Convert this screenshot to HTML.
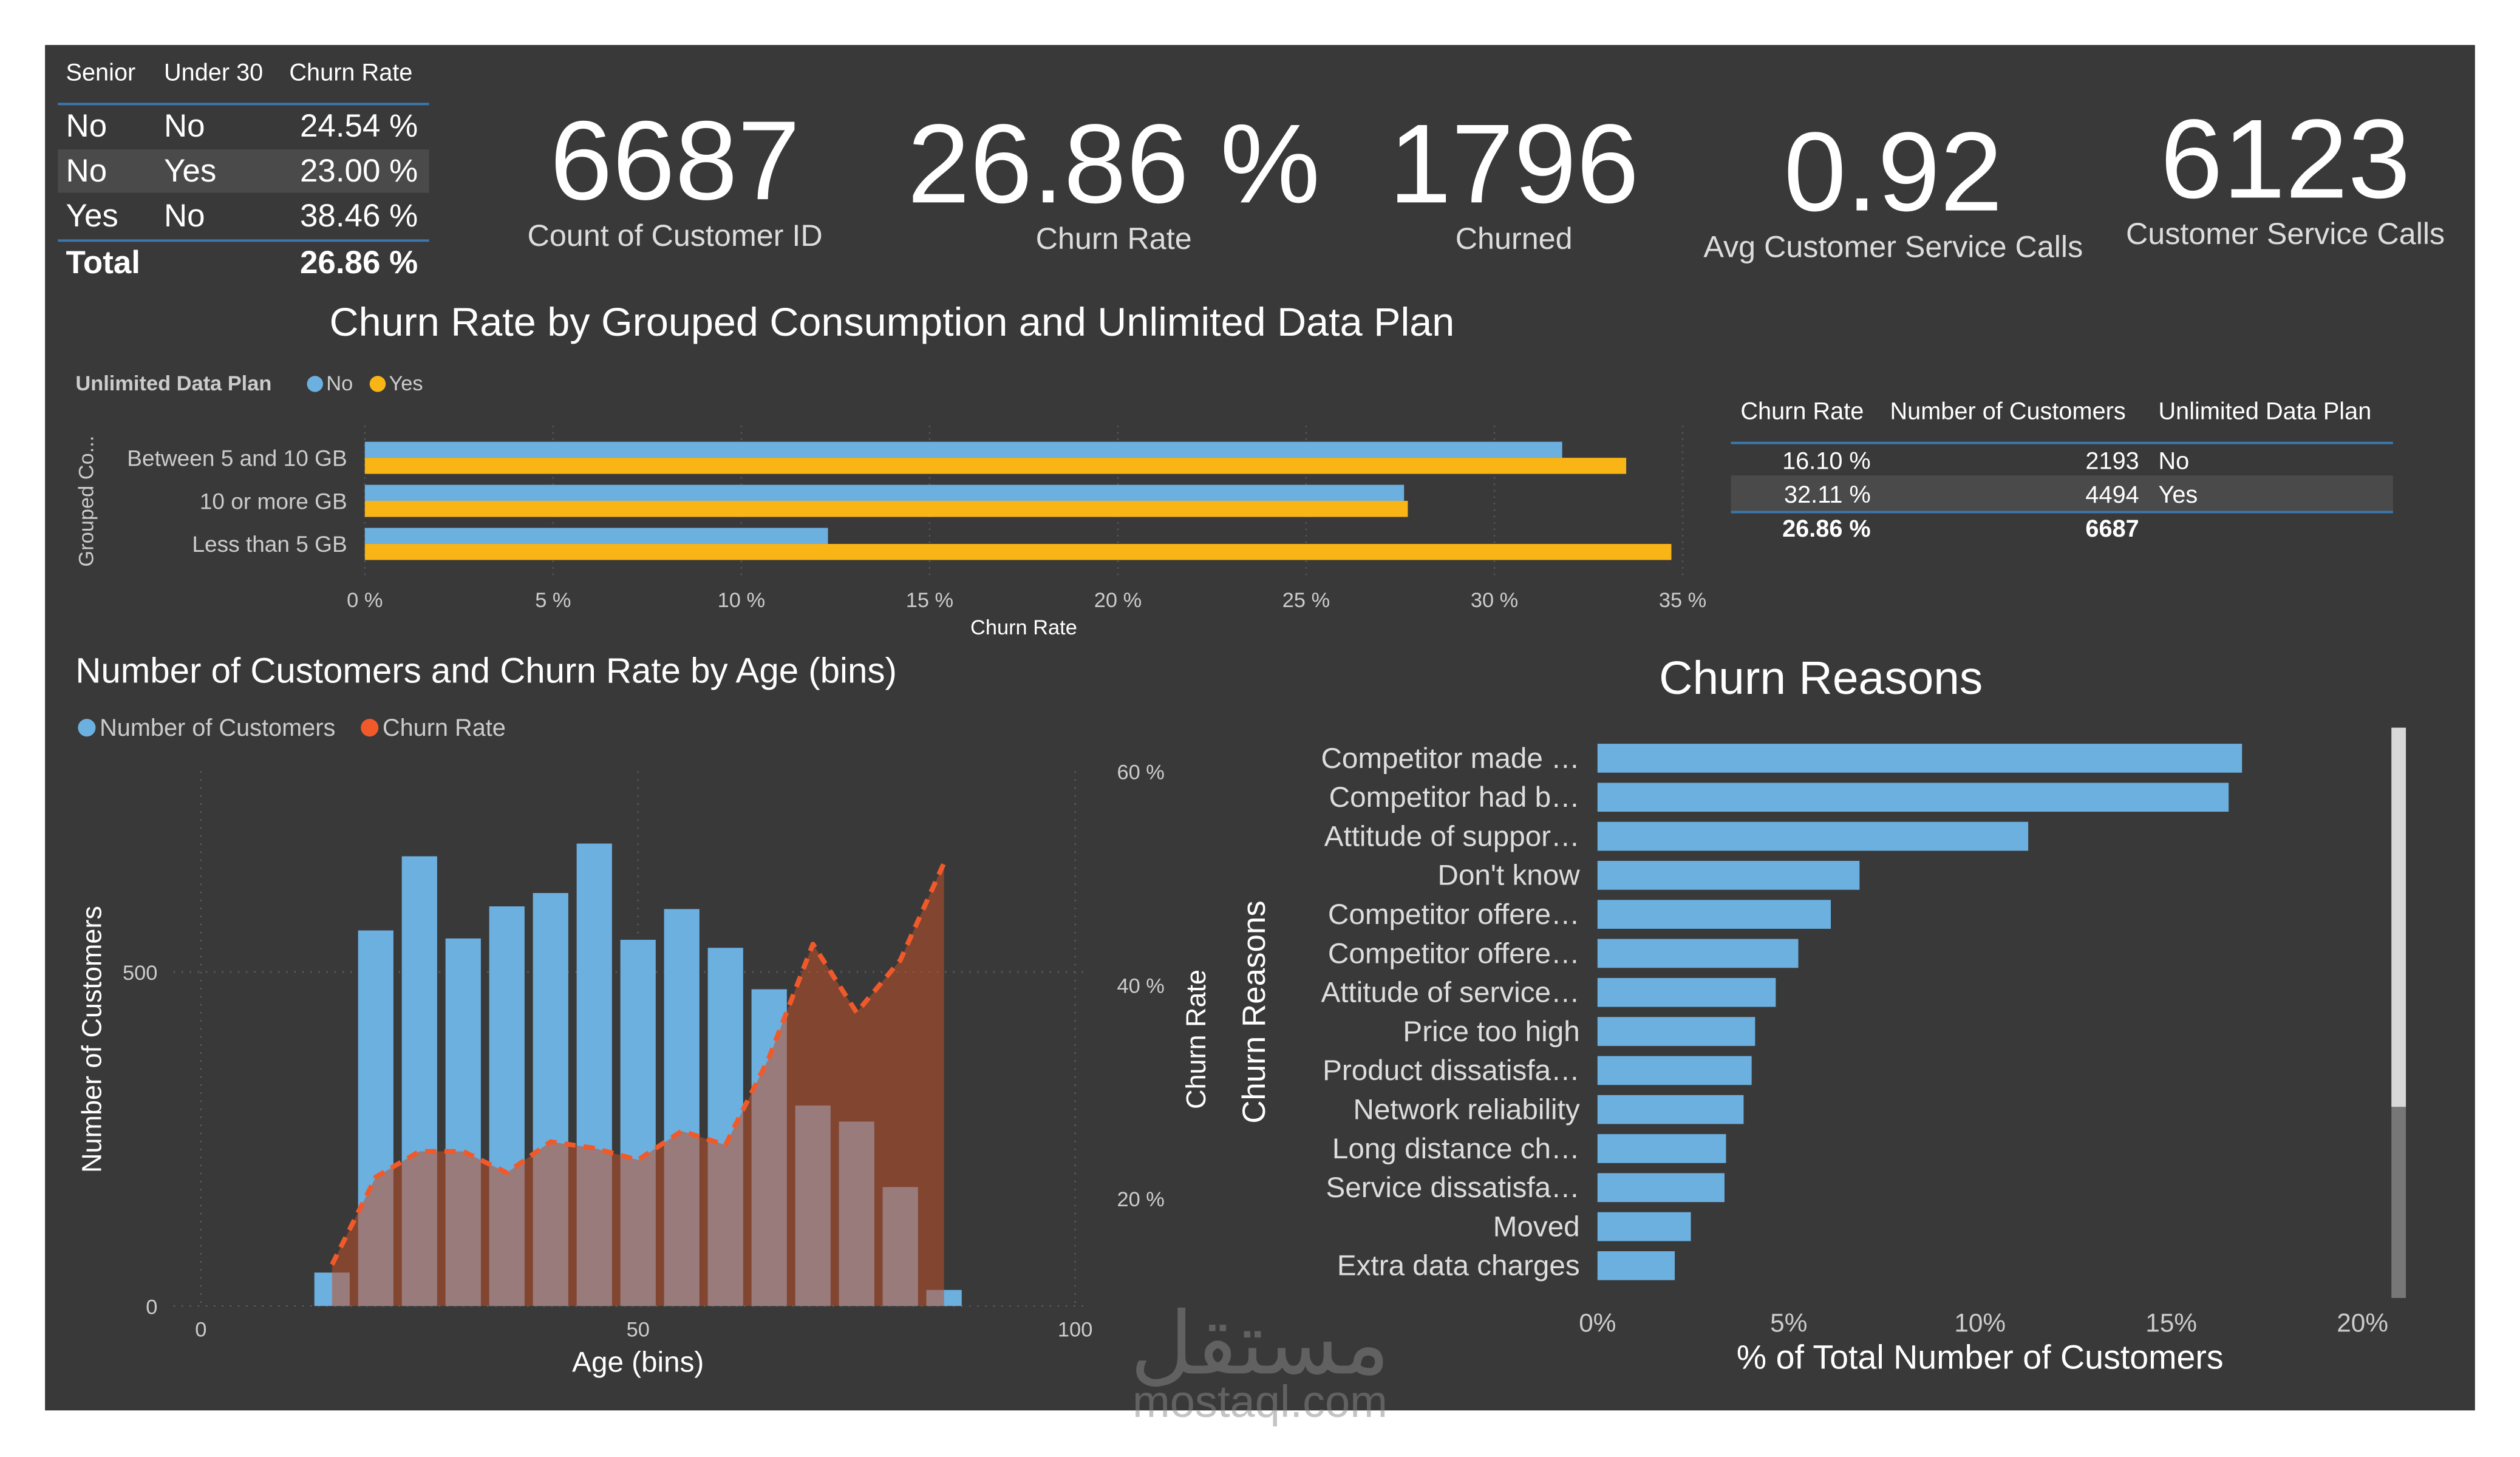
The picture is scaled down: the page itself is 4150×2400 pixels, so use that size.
<!DOCTYPE html>
<html><head><meta charset="utf-8"><style>
html,body{margin:0;padding:0;background:#fff;}
svg{display:block;font-family:"Liberation Sans","Noto Sans CJK SC",sans-serif;}
</style></head><body>
<svg id="root" width="4150" height="2400" viewBox="0 0 1568 907" preserveAspectRatio="none" xmlns="http://www.w3.org/2000/svg">
<rect x="0" y="0" width="1568" height="907" fill="#ffffff"/>
<rect x="28" y="28" width="1512" height="850" fill="#393939"/>

<!-- top-left table -->
<g fill="#fff">
<text x="41" y="50" font-size="15">Senior</text><text x="102" y="50" font-size="15">Under 30</text><text x="180" y="50" font-size="15">Churn Rate</text>
<rect x="36" y="64" width="231" height="1.5" fill="#3b78b0"/>
<rect x="36" y="93" width="231" height="27" fill="#4a4a4a"/>
<text x="41" y="85" font-size="20">No</text><text x="102" y="85" font-size="20">No</text><text x="260" y="85" font-size="20" text-anchor="end">24.54 %</text>
<text x="41" y="113" font-size="20">No</text><text x="102" y="113" font-size="20">Yes</text><text x="260" y="113" font-size="20" text-anchor="end">23.00 %</text>
<text x="41" y="141" font-size="20">Yes</text><text x="102" y="141" font-size="20">No</text><text x="260" y="141" font-size="20" text-anchor="end">38.46 %</text>
<rect x="36" y="149" width="231" height="1.5" fill="#3b78b0"/>
<text x="41" y="170" font-size="20" font-weight="bold">Total</text><text x="260" y="170" font-size="20" font-weight="bold" text-anchor="end">26.86 %</text>
</g>

<!-- KPIs -->
<g fill="#fff" text-anchor="middle">
<g><text x="420" y="124" font-size="70">6687</text><text x="420" y="153" font-size="19" fill="#ddd">Count of Customer ID</text></g>
<g><text x="693" y="126" font-size="70">26.86 %</text><text x="693" y="155" font-size="19" fill="#ddd">Churn Rate</text></g>
<g><text x="942" y="126" font-size="70">1796</text><text x="942" y="155" font-size="19" fill="#ddd">Churned</text></g>
<g><text x="1178" y="131" font-size="70">0.92</text><text x="1178" y="160" font-size="19" fill="#ddd">Avg Customer Service Calls</text></g>
<g><text x="1422" y="123" font-size="70">6123</text><text x="1422" y="152" font-size="19" fill="#ddd">Customer Service Calls</text></g>
</g>

<!-- chart 1 -->
<text x="205" y="209" font-size="25" fill="#fff" textLength="700" lengthAdjust="spacingAndGlyphs">Churn Rate by Grouped Consumption and Unlimited Data Plan</text>
<g font-size="13">
<text x="47" y="243" fill="#ccc" font-weight="bold">Unlimited Data Plan</text>
<circle cx="196" cy="239" r="5" fill="#6cb0e0"/><text x="203" y="243" fill="#ccc">No</text>
<circle cx="235" cy="239" r="5" fill="#f9b515"/><text x="242" y="243" fill="#ccc">Yes</text>
</g>
<text transform="translate(58,312) rotate(-90)" font-size="13" fill="#ccc" text-anchor="middle">Grouped Co...</text>
<text x="637" y="395" font-size="13" fill="#fff" text-anchor="middle">Churn Rate</text>
<g id="c1"></g>

<!-- right table -->
<g fill="#fff" font-size="15">
<text x="1083" y="261">Churn Rate</text><text x="1176" y="261">Number of Customers</text><text x="1343" y="261">Unlimited Data Plan</text>
<rect x="1077" y="275" width="412" height="1.5" fill="#3b78b0"/>
<rect x="1077" y="296" width="412" height="22" fill="#4a4a4a"/>
<text x="1164" y="292" text-anchor="end">16.10 %</text><text x="1331" y="292" text-anchor="end">2193</text><text x="1343" y="292">No</text>
<text x="1164" y="313" text-anchor="end">32.11 %</text><text x="1331" y="313" text-anchor="end">4494</text><text x="1343" y="313">Yes</text>
<rect x="1077" y="318" width="412" height="1.5" fill="#3b78b0"/>
<text x="1164" y="334" text-anchor="end" font-weight="bold">26.86 %</text><text x="1331" y="334" text-anchor="end" font-weight="bold">6687</text>
</g>

<!-- chart 2 -->
<text x="47" y="425" font-size="22" fill="#fff" textLength="511" lengthAdjust="spacingAndGlyphs">Number of Customers and Churn Rate by Age (bins)</text>
<g font-size="15">
<circle cx="54" cy="453" r="5.5" fill="#6cb0e0"/><text x="62" y="458" fill="#ccc">Number of Customers</text>
<circle cx="230" cy="453" r="5.5" fill="#f05a2a"/><text x="238" y="458" fill="#ccc">Churn Rate</text>
</g>
<text transform="translate(63,647) rotate(-90)" font-size="17" fill="#fff" text-anchor="middle">Number of Customers</text>
<text transform="translate(750,647) rotate(-90)" font-size="17" fill="#fff" text-anchor="middle">Churn Rate</text>
<text x="397" y="854" font-size="18" fill="#fff" text-anchor="middle">Age (bins)</text>
<g id="c2"></g>

<!-- chart 3 -->
<text x="1133" y="432" font-size="29" fill="#fff" text-anchor="middle">Churn Reasons</text>
<text transform="translate(787,630) rotate(-90)" font-size="20" fill="#fff" text-anchor="middle">Churn Reasons</text>
<text x="1232" y="852" font-size="21" fill="#fff" text-anchor="middle">% of Total Number of Customers</text>
<g id="c3"></g>
<rect x="1488" y="453" width="9" height="355" fill="#777"/>
<rect x="1488" y="453" width="9" height="236" fill="#d8d8d8"/>

<g fill="#8a8a8a" opacity="0.5" text-anchor="middle">
<text x="784" y="855" font-size="54" font-family="'DejaVu Sans',sans-serif">مستقل</text>
<text x="784" y="882" font-size="28">mostaql.com</text>
</g>
</svg>
<script>
const NS='http://www.w3.org/2000/svg';
function mk(p,tag,attrs,txt){const e=document.createElementNS(NS,tag);for(const k in attrs)e.setAttribute(k,attrs[k]);if(txt!==undefined)e.textContent=txt;p.appendChild(e);return e;}

// ---- chart 1 data ----
const c1Categories=['Between 5 and 10 GB','10 or more GB','Less than 5 GB'];
const c1No=[31.8,27.6,12.3];
const c1Yes=[33.5,27.7,34.7];
const c1Ticks=[0,5,10,15,20,25,30,35];
const c1x=v=>227+v*(1047-227)/35;
const c1row=i=>285+i*26.8;
const g1=document.getElementById('c1');
c1Ticks.forEach(t=>{
  const l=mk(g1,'line',{x1:c1x(t),x2:c1x(t),y1:265,y2:358,stroke:'#555','stroke-dasharray':'1 3'});
  
  
  const tx=mk(g1,'text',{x:c1x(t),y:378,'font-size':13,fill:'#ccc','text-anchor':'middle'},t+' %');
  
  
});
c1Categories.forEach((c,i)=>{
  const y=c1row(i);
  const lb=mk(g1,'text',{x:216,y:y+5,'font-size':14,fill:'#ccc','text-anchor':'end'},c);
  
  
  const b1=mk(g1,'rect',{x:c1x(0),y:y-10,width:c1x(c1No[i])-c1x(0),height:10,fill:'#6cb0e0'});
  
  
  const b2=mk(g1,'rect',{x:c1x(0),y:y,width:c1x(c1Yes[i])-c1x(0),height:10,fill:'#f9b515'});
  
  
});

// ---- chart 2 data ----
const c2Ages=[15,20,25,30,35,40,45,50,55,60,65,70,75,80,85];
const c2Customers=[50,562,673,550,598,618,692,548,594,536,474,300,276,178,24];
const c2Churn=[13.8,22,24.4,24.4,22.4,25.3,24.7,23.6,26.3,25,33.2,43.8,37.4,42.3,51.4];
const c2XTicks=[0,50,100];
const c2YTicks=[0,500];
const c2Y2Ticks=[20,40,60];
const c2x=a=>125+a*5.44;
const c2y=v=>813-v*0.416;
const c2y2=p=>879-p*6.65;
const g2=document.getElementById('c2');
c2XTicks.forEach(t=>{
  const l=mk(g2,'line',{x1:c2x(t),x2:c2x(t),y1:480,y2:813,stroke:'#5a5a5a','stroke-dasharray':'1 4'});
  
  
  const tx=mk(g2,'text',{x:c2x(t),y:832,'font-size':13,fill:'#ccc','text-anchor':'middle'},t);
  
  
});
c2YTicks.forEach(t=>{
  const l=mk(g2,'line',{x1:108,x2:675,y1:c2y(t),y2:c2y(t),stroke:'#5a5a5a','stroke-dasharray':'1 4'});
  
  
  const tx=mk(g2,'text',{x:98,y:c2y(t)+5,'font-size':13,fill:'#ccc','text-anchor':'end'},t);
  
  
});
c2Y2Ticks.forEach(t=>{
  const tx=mk(g2,'text',{x:695,y:c2y2(t)+5,'font-size':13,fill:'#ccc'},t+' %');
  
  
});
c2Ages.forEach((a,i)=>{
  const b=mk(g2,'rect',{x:c2x(a)-11,y:c2y(c2Customers[i]),width:22,height:c2y(0)-c2y(c2Customers[i]),fill:'#6cb0e0'});
  
  
});
let pts=c2Ages.map((a,i)=>c2x(a)+','+c2y2(c2Churn[i]));
const area=mk(g2,'polygon',{points:c2x(c2Ages[0])+','+c2y(0)+' '+pts.join(' ')+' '+c2x(c2Ages[c2Ages.length-1])+','+c2y(0),fill:'#c0502a','fill-opacity':0.55});


const line=mk(g2,'polyline',{points:pts.join(' '),fill:'none',stroke:'#f05a2a','stroke-width':3,'stroke-dasharray':'7 5','stroke-linejoin':'round'});



// ---- chart 3 data ----
const c3Reasons=['Competitor made …','Competitor had b…','Attitude of suppor…',"Don't know",'Competitor offere…','Competitor offere…','Attitude of service…','Price too high','Product dissatisfa…','Network reliability','Long distance ch…','Service dissatisfa…','Moved','Extra data charges'];
const c3Values=[16.85,16.5,11.26,6.85,6.1,5.25,4.66,4.12,4.03,3.82,3.36,3.32,2.44,2.02];
const c3Ticks=[0,5,10,15,20];
const c3x=v=>994+v*23.8;
const c3y=i=>472+i*24.3;
const g3=document.getElementById('c3');
c3Ticks.forEach(t=>{
  const tx=mk(g3,'text',{x:c3x(t),y:829,'font-size':16,fill:'#ccc','text-anchor':'middle'},t+'%');
  
  
});
c3Reasons.forEach((r,i)=>{
  const lb=mk(g3,'text',{x:983,y:c3y(i)+6,'font-size':18,fill:'#ddd','text-anchor':'end'},r);
  
  
  const b=mk(g3,'rect',{x:c3x(0),y:c3y(i)-9,width:c3x(c3Values[i])-c3x(0),height:18,fill:'#6cb0e0'});
  
  
});
</script>
</body></html>
